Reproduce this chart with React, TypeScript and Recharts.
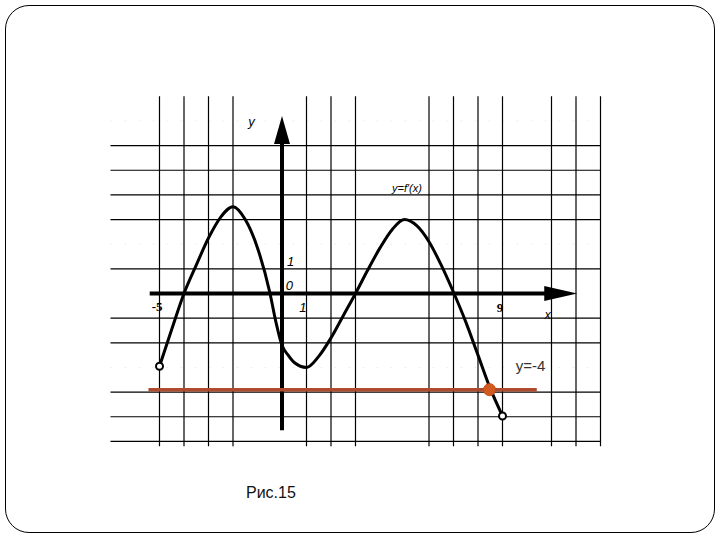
import React from 'react';
import { ComposedChart, Line, XAxis, YAxis, ReferenceLine, ReferenceDot } from 'recharts';

// f'(x) curve
const curveX = [-5, -4.5, -4, -3.5, -3, -2.5, -2, -1.5, -1, -0.5, -0.25, 0, 0.25, 0.5, 1, 1.5, 2, 2.5, 3, 3.5, 4, 4.5, 5, 5.5, 6, 6.5, 7, 7.5, 8, 8.5, 9];
const curveY = [-2.95, -1.45, 0, 1.15, 2.25, 3.1, 3.52, 3.0, 1.85, 0.05, -1.15, -2.1, -2.5, -2.8, -3.0, -2.55, -1.8, -0.9, 0, 0.95, 1.85, 2.6, 3.0, 2.75, 2.1, 1.15, 0.05, -1.15, -2.5, -3.85, -4.97];

const gridRowsY = [6, 5, 4, 3, 1, -1, -2, -4, -5, -6];
const faintRowsY = [7, 2, -3];
const gridColsX = [-5, -4, -3, -2, 1, 2, 3, 6, 7, 8, 9, 11, 12, 13];

const lineLevel = -3.9; // the y=-4 line
const crossX = 8.47;

const data = curveX.map((x, i) => ({ x, y: curveY[i] }));

const textShape = (text: string, style: any) => (p: any) => (
  <text x={p.cx} y={p.cy} {...style}>{text}</text>
);

const italic = { fontFamily: 'Liberation Sans, Arial, sans-serif', fontStyle: 'italic', fontSize: 12, fill: '#000', textAnchor: 'middle' };
const boldSerif = { fontFamily: 'Liberation Serif, Times New Roman, serif', fontWeight: 'bold', fontSize: 13, fill: '#000', textAnchor: 'middle' };

export default function App() {
  return (
    <div style={{ position: 'absolute', left: 0, top: 0, width: 720, height: 540, background: '#fff' }}>
      <div style={{ position: 'absolute', left: 5, top: 5, width: 708, height: 526, border: '1px solid #000', borderRadius: 24 }} />
      <div style={{ position: 'absolute', left: 0, top: 0 }}>
        <ComposedChart width={720} height={540} data={data}
          margin={{ left: 86, right: 95, top: 71.65, bottom: 73.95 }}>
          <XAxis dataKey="x" type="number" domain={[-8, 14]} hide allowDataOverflow />
          <YAxis type="number" domain={[-7, 9]} hide allowDataOverflow />
          {faintRowsY.map((y) => (
            <ReferenceLine key={'f' + y} segment={[{ x: -7, y }, { x: 13, y }]} stroke="#ececec" strokeWidth={1} strokeDasharray="2 12" />
          ))}
          {gridRowsY.map((y) => (
            <ReferenceLine key={'r' + y} segment={[{ x: -7, y }, { x: 13, y }]} stroke="#000" strokeWidth={1.2} />
          ))}
          {gridColsX.map((x) => (
            <ReferenceLine key={'c' + x} segment={[{ x, y: -6.2 }, { x, y: 8 }]} stroke="#000" strokeWidth={1.2} />
          ))}
          <ReferenceLine segment={[{ x: -5.4, y: 0 }, { x: 10.9, y: 0 }]} stroke="#000" strokeWidth={4} />
          <ReferenceLine segment={[{ x: 0, y: -5.55 }, { x: 0, y: 6.1 }]} stroke="#000" strokeWidth={4} />
          <ReferenceDot x={12.05} y={0} r={0} shape={(p: any) => (
            <polygon points={`${p.cx},${p.cy} ${p.cx - 33},${p.cy - 7.5} ${p.cx - 33},${p.cy + 7.5}`} fill="#000" />
          )} />
          <ReferenceDot x={0} y={7.2} r={0} shape={(p: any) => (
            <polygon points={`${p.cx},${p.cy} ${p.cx - 8},${p.cy + 28} ${p.cx + 8},${p.cy + 28}`} fill="#000" />
          )} />
          <ReferenceLine segment={[{ x: -5.45, y: lineLevel }, { x: 10.4, y: lineLevel }]} stroke="#b04a2c" strokeWidth={3.5} />
          <Line dataKey="y" type="monotone" stroke="#000" strokeWidth={3} dot={false} isAnimationActive={false} />
          <ReferenceDot x={crossX} y={lineLevel} r={6} fill="#d35a1f" stroke="#c04d1c" strokeWidth={1} />
          <ReferenceDot x={curveX[0]} y={curveY[0]} r={3.5} fill="#fff" stroke="#000" strokeWidth={2} />
          <ReferenceDot x={curveX[curveX.length - 1]} y={curveY[curveY.length - 1]} r={3.5} fill="#fff" stroke="#000" strokeWidth={2} />
          <ReferenceDot x={-1.25} y={6.8} r={0} shape={textShape('y', { ...italic, fontSize: 13 })} />
          <ReferenceDot x={0.35} y={1.1} r={0} shape={textShape('1', { ...italic, fontSize: 13 })} />
          <ReferenceDot x={0.3} y={0.15} r={0} shape={textShape('0', { ...italic, fontSize: 13 })} />
          <ReferenceDot x={-5.1} y={-0.7} r={0} shape={textShape('-5', boldSerif)} />
          <ReferenceDot x={0.85} y={-0.75} r={0} shape={textShape('1', { ...italic, fontSize: 13 })} />
          <ReferenceDot x={8.9} y={-0.75} r={0} shape={textShape('9', boldSerif)} />
          <ReferenceDot x={10.85} y={-1.05} r={0} shape={textShape('x', italic)} />
          <ReferenceDot x={5.1} y={4.1} r={0} shape={textShape('y=f′(x)', { ...italic, fontSize: 11 })} />
          <ReferenceDot x={10.15} y={-3.15} r={0} shape={textShape('y=-4', { fontFamily: 'Liberation Sans, Arial, sans-serif', fontSize: 15, fill: '#333', textAnchor: 'middle' })} />
        </ComposedChart>
      </div>
      <div style={{ position: 'absolute', left: 246, top: 484, fontFamily: 'Liberation Sans, Arial, sans-serif', fontSize: 16, color: '#111' }}>Рис.15</div>
    </div>
  );
}
